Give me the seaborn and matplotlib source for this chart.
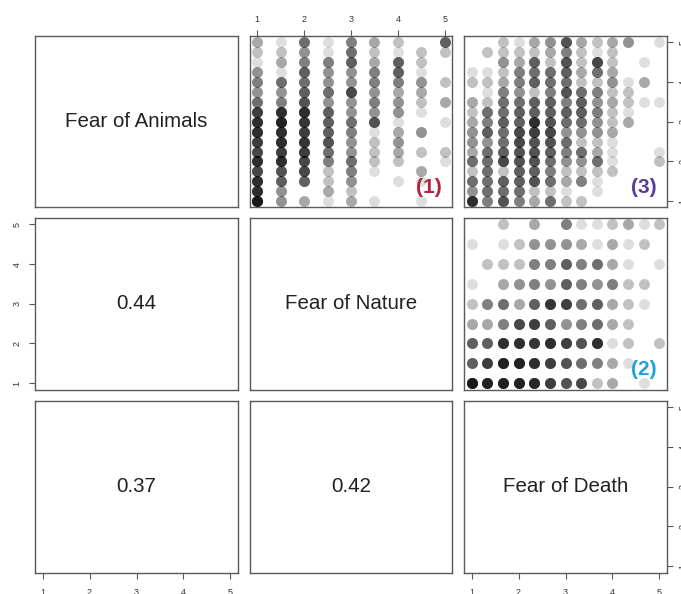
import numpy as np
import pandas as pd
import matplotlib
matplotlib.use("Agg")
import matplotlib.pyplot as plt
import seaborn as sns

# ---------------- data ----------------
variables = ["Fear of Animals", "Fear of Nature", "Fear of Death"]

# response levels (scale 1-5)
animals_levels = [5.0, 4.75, 4.5, 4.25, 4.0, 3.75, 3.5, 3.25, 3.0,
                  2.75, 2.5, 2.25, 2.0, 1.75, 1.5, 1.25, 1.0]          # top -> bottom
nature_levels_x = [1.0, 1.5, 2.0, 2.5, 3.0, 3.5, 4.0, 4.5, 5.0]         # left -> right
nature_levels_y = [5.0, 4.5, 4.0, 3.5, 3.0, 2.5, 2.0, 1.5, 1.0]         # top -> bottom
death_levels = [1.0, 1.33, 1.67, 2.0, 2.33, 2.67, 3.0, 3.33, 3.67,
                4.0, 4.33, 4.67, 5.0]                                   # left -> right

# panel (1): x = Fear of Nature, y = Fear of Animals
# one inner list per nature level, counts from animals 5.0 down to 1.0
counts_nature_animals = [
    [3, 2, 1, 4, 5, 4, 6, 10, 12, 12, 10, 9, 12, 9, 12, 12, 16],
    [1, 2, 3, 1, 6, 4, 5, 12, 14, 12, 12, 10, 12, 8, 7, 4, 4],
    [6, 4, 5, 7, 6, 7, 8, 12, 11, 10, 11, 10, 9, 9, 7, 0, 3],
    [1, 1, 5, 4, 4, 6, 4, 7, 7, 7, 8, 6, 5, 2, 2, 3, 1],
    [5, 6, 7, 4, 4, 9, 4, 4, 6, 5, 4, 4, 6, 5, 4, 2, 3],
    [3, 2, 3, 5, 5, 4, 5, 4, 8, 1, 2, 2, 2, 1, 0, 0, 1],
    [2, 1, 7, 7, 5, 3, 4, 4, 1, 3, 4, 3, 2, 0, 1, 0, 0],
    [0, 2, 2, 1, 4, 3, 2, 1, 0, 4, 0, 2, 0, 3, 1, 0, 1],
    [7, 2, 0, 0, 2, 0, 3, 0, 1, 0, 0, 2, 1, 0, 0, 0, 0],
]

# panel (3): x = Fear of Death, y = Fear of Animals
# one inner list per death level, counts from animals 5.0 down to 1.0
counts_death_animals = [
    [0, 0, 0, 1, 2, 0, 3, 2, 3, 4, 4, 3, 6, 2, 6, 4, 12],
    [0, 2, 0, 1, 2, 1, 2, 6, 5, 7, 4, 6, 6, 6, 6, 6, 5],
    [2, 2, 4, 2, 3, 5, 6, 6, 7, 6, 6, 7, 9, 2, 7, 6, 8],
    [1, 2, 3, 5, 5, 4, 6, 7, 7, 9, 9, 8, 8, 7, 7, 6, 5],
    [3, 2, 7, 6, 7, 2, 7, 7, 12, 10, 8, 8, 8, 7, 8, 2, 3],
    [4, 3, 2, 6, 6, 5, 7, 7, 8, 9, 8, 7, 6, 5, 6, 2, 6],
    [8, 5, 8, 7, 6, 8, 5, 7, 6, 4, 6, 5, 4, 2, 3, 1, 2],
    [3, 2, 2, 3, 2, 6, 7, 7, 6, 4, 2, 6, 4, 2, 5, 0, 2],
    [2, 1, 9, 6, 2, 5, 4, 5, 4, 4, 2, 3, 6, 2, 1, 1, 0],
    [3, 2, 2, 3, 4, 2, 3, 2, 2, 3, 1, 1, 1, 2, 0, 0, 0],
    [4, 0, 0, 0, 1, 2, 2, 1, 3, 0, 0, 0, 0, 0, 0, 0, 0],
    [0, 0, 1, 0, 3, 0, 1, 0, 0, 0, 0, 0, 0, 0, 0, 0, 0],
    [1, 0, 0, 0, 0, 0, 1, 0, 0, 0, 0, 1, 2, 0, 0, 0, 0],
]

# panel (2): x = Fear of Death, y = Fear of Nature
# one inner list per nature level (5.0 down to 1.0), counts over death levels
counts_death_nature = [
    [0, 0, 2, 0, 3, 0, 5, 1, 1, 2, 3, 1, 2],
    [1, 0, 1, 2, 4, 4, 4, 3, 1, 3, 1, 2, 0],
    [0, 2, 2, 2, 5, 5, 7, 5, 6, 3, 1, 0, 1],
    [1, 0, 3, 4, 5, 4, 7, 5, 4, 5, 2, 2, 0],
    [2, 5, 6, 3, 7, 11, 10, 6, 7, 3, 2, 1, 0],
    [3, 3, 5, 9, 10, 7, 4, 5, 6, 3, 2, 0, 0],
    [7, 7, 12, 12, 11, 12, 10, 8, 12, 1, 2, 0, 2],
    [7, 10, 14, 14, 12, 10, 8, 6, 5, 3, 1, 0, 0],
    [16, 14, 14, 14, 13, 10, 8, 9, 2, 3, 0, 1, 0],
]

correlations = {(1, 0): "0.44", (2, 0): "0.37", (2, 1): "0.42"}
tick_values = [1, 2, 3, 4, 5]
tags = {(0, 1): "(1)", (1, 2): "(2)", (0, 2): "(3)"}
tag_colors = {"(1)": "#b3223f", "(2)": "#1fa3d6", "(3)": "#5b3b98"}


def long_form(xlevels, ylevels, counts, by_x):
    xs, ys = [], []
    if by_x:
        for i, xv in enumerate(xlevels):
            for j, yv in enumerate(ylevels):
                n = counts[i][j]
                xs += [xv] * n
                ys += [yv] * n
    else:
        for j, yv in enumerate(ylevels):
            for i, xv in enumerate(xlevels):
                n = counts[j][i]
                xs += [xv] * n
                ys += [yv] * n
    return pd.DataFrame({"x": xs, "y": ys})


scatter_data = {
    (0, 1): long_form(nature_levels_x, animals_levels, counts_nature_animals, True),
    (0, 2): long_form(death_levels, animals_levels, counts_death_animals, True),
    (1, 2): long_form(death_levels, nature_levels_y, counts_death_nature, False),
}

# ---------------- style ----------------
sns.set_style("white")
plt.rcParams["font.family"] = ["Liberation Sans", "DejaVu Sans"]

fig = plt.figure(figsize=(6.81, 5.94), dpi=100)
W, H = 681.0, 594.0
col_left = [35.0, 249.5, 464.0]
col_w = 203.0
row_top = [36.0, 218.0, 401.0]
row_h = 171.5
frame_col = "#5a5a5a"
tick_col = "#333333"

axes = {}
for r in range(3):
    for c in range(3):
        ax = fig.add_axes([col_left[c] / W, 1 - (row_top[r] + row_h) / H,
                           col_w / W, row_h / H])
        ax.set_xlim(0.84, 5.16)
        ax.set_ylim(0.84, 5.16)
        ax.set_xticks(tick_values)
        ax.set_yticks(tick_values)
        ax.tick_params(axis="both", which="both", length=0,
                       labelbottom=False, labelleft=False,
                       labeltop=False, labelright=False)
        for sp in ax.spines.values():
            sp.set_visible(True)
            sp.set_color(frame_col)
            sp.set_linewidth(1.0)
        ax.set_facecolor("white")
        axes[(r, c)] = ax

        if r == c:
            ax.text(0.5, 0.5, variables[r], transform=ax.transAxes,
                    ha="center", va="center", fontsize=14.8, color="#222222")
        elif (r, c) in correlations:
            ax.text(0.5, 0.5, correlations[(r, c)], transform=ax.transAxes,
                    ha="center", va="center", fontsize=14.8, color="#222222")
        else:
            d = scatter_data[(r, c)]
            sns.scatterplot(data=d, x="x", y="y", ax=ax, color="black",
                            alpha=0.13, s=62, linewidth=0, legend=False)
            ax.set_xlabel("")
            ax.set_ylabel("")
            t = tags[(r, c)]
            ax.text(0.885, 0.115, t, transform=ax.transAxes, ha="center",
                    va="center", fontsize=15, fontweight="bold",
                    color=tag_colors[t])

tk = dict(length=4.5, width=0.8, color=frame_col, labelcolor=tick_col,
          labelsize=6.5)

# top axis of column 2
axes[(0, 1)].xaxis.set_ticks_position("top")
axes[(0, 1)].tick_params(axis="x", top=True, labeltop=True, pad=4, **tk)

# right axis of row 1
axes[(0, 2)].yaxis.set_ticks_position("right")
axes[(0, 2)].tick_params(axis="y", right=True, labelright=True, pad=4,
                         labelrotation=90, **tk)

# left axis of row 2
axes[(1, 0)].yaxis.set_ticks_position("left")
axes[(1, 0)].tick_params(axis="y", left=True, labelleft=True, pad=5,
                         labelrotation=90, **tk)

# bottom axes of columns 1 and 3
for key in [(2, 0), (2, 2)]:
    axes[key].xaxis.set_ticks_position("bottom")
    axes[key].tick_params(axis="x", bottom=True, labelbottom=True, pad=7, **tk)

# right axis of row 3
axes[(2, 2)].yaxis.set_ticks_position("right")
axes[(2, 2)].tick_params(axis="y", right=True, labelright=True, pad=4,
                         labelrotation=90, **tk)

for key in [(0, 2), (2, 2), (1, 0)]:
    for lab in axes[key].get_yticklabels():
        lab.set_va("center")

fig.savefig("out.png", dpi=100, facecolor="white")
